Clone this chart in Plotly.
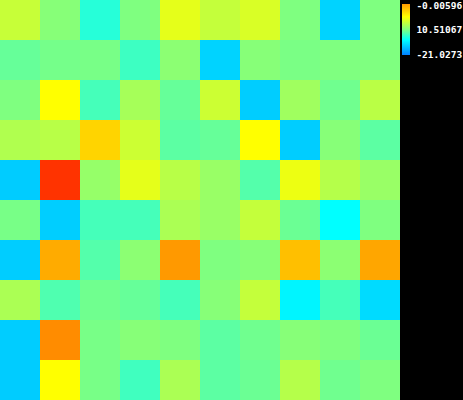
import plotly.graph_objects as go

cols = list(range(10))
rows = list(range(10))

z_values = [
    [-10.73, -13.36, -17.35, -13.68, -9.47, -10.84, -9.99, -13.68, -20.72, -13.68],
    [-14.73, -14.10, -13.99, -16.41, -13.15, -20.72, -13.36, -13.89, -13.68, -13.68],
    [-13.68, -8.42, -16.09, -12.10, -14.73, -10.52, -21.00, -12.31, -14.31, -11.26],
    [-11.68, -11.36, -6.63, -10.52, -15.15, -14.73, -8.42, -21.00, -13.36, -15.15],
    [-21.0273, -0.00596, -12.73, -9.47, -11.36, -12.62, -15.46, -9.16, -11.47, -12.62],
    [-13.99, -20.95, -16.09, -16.09, -11.89, -12.62, -10.84, -14.52, -18.93, -13.68],
    [-20.98, -4.95, -15.46, -13.15, -4.22, -13.68, -13.36, -5.79, -13.15, -4.74],
    [-11.89, -15.67, -14.31, -14.73, -16.09, -13.36, -10.84, -19.35, -16.09, -20.40],
    [-21.00, -3.69, -13.99, -13.36, -13.68, -15.15, -14.31, -13.36, -13.68, -14.52],
    [-21.01, -8.42, -13.99, -16.30, -11.89, -15.15, -14.52, -11.47, -14.31, -13.68],
]

z_min = -21.0273
z_max = -0.00596
tick_vals = [-0.5, -10.51663, -21.0272]
tick_text = ["-0.00596", "10.51067", "-21.0273"]

cell_colorscale = [
    [0.0, "#00ccff"],
    [0.1, "#00ffff"],
    [0.6, "#ffff00"],
    [1.0, "#ff3300"],
]
legend_colorscale = [
    [0.0, "#0080ff"],
    [0.3, "#00ffff"],
    [0.5, "#80ff80"],
    [0.75, "#ffff00"],
    [1.0, "#ff9900"],
]

W, H = 463, 400

fig = go.Figure()
fig.add_trace(
    go.Heatmap(
        z=z_values,
        x=cols,
        y=rows,
        colorscale=cell_colorscale,
        zmin=z_min,
        zmax=z_max,
        hoverinfo="skip",
        showscale=False,
    )
)
fig.add_trace(
    go.Scatter(
        x=[None, None],
        y=[None, None],
        mode="markers",
        hoverinfo="skip",
        showlegend=False,
        marker=dict(
            color=[z_min, z_max],
            cmin=z_min,
            cmax=z_max,
            colorscale=legend_colorscale,
            showscale=True,
            colorbar=dict(
                x=402 / W,
                xanchor="left",
                xref="paper",
                y=1 - 4 / H,
                yanchor="top",
                len=51 / H,
                lenmode="fraction",
                thickness=8,
                thicknessmode="pixels",
                xpad=0,
                ypad=0,
                outlinewidth=0,
                ticks="outside",
                ticklen=5,
                tickcolor="rgba(0,0,0,0)",
                tickvals=tick_vals,
                ticktext=tick_text,
                ticklabeloverflow="allow",
                tickfont=dict(family="DejaVu Sans Mono", size=9.5, color="white", weight="bold"),
            ),
        ),
    )
)

fig.update_layout(
    width=W,
    height=H,
    margin=dict(l=0, r=0, t=0, b=0, autoexpand=False),
    paper_bgcolor="black",
    plot_bgcolor="black",
    xaxis=dict(domain=[0, 400 / W], range=[-0.5, 9.5], visible=False),
    yaxis=dict(range=[9.5, -0.5], visible=False),
)

fig.write_html(
    "out.html",
    config={"displayModeBar": False, "responsive": False},
    post_script=(
        "document.documentElement.style.overflow='hidden';"
        "document.body.style.overflow='hidden';"
        "document.body.style.margin='0';"
        "document.body.style.background='black';"
    ),
)
